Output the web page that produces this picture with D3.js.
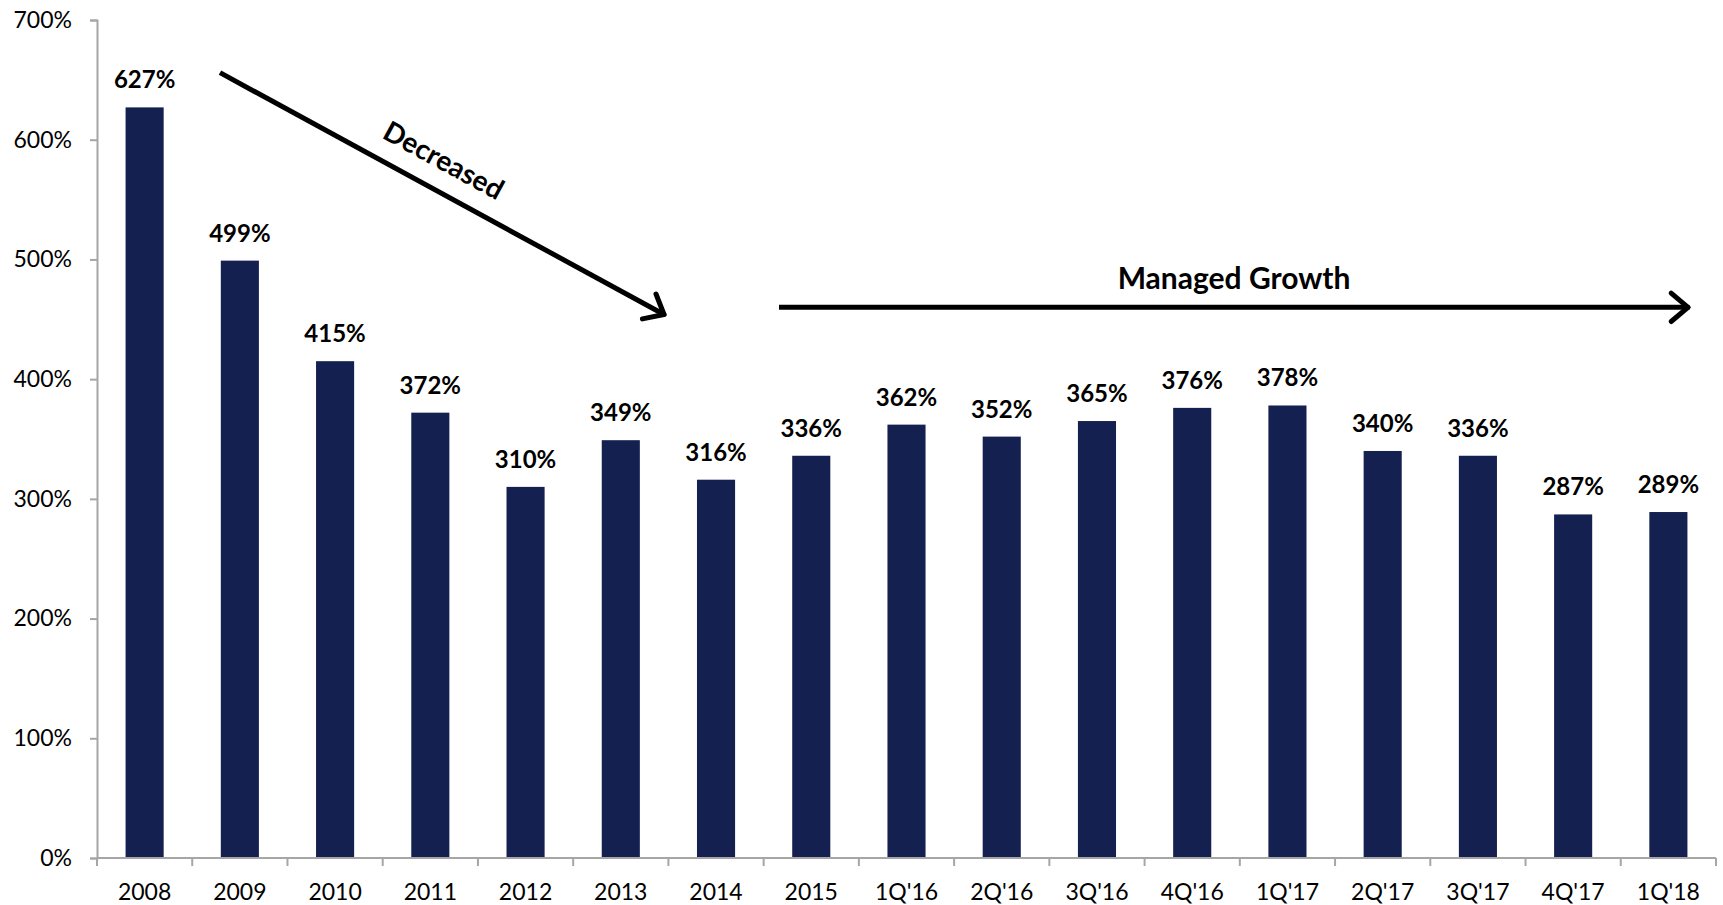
<!DOCTYPE html>
<html>
<head>
<meta charset="utf-8">
<script src="https://cdn.jsdelivr.net/npm/d3@7"></script>
<style>
  body { margin: 0; background: #fff; }
  svg { display: block; font-family: Lato, "Open Sans", sans-serif; }
</style>
</head>
<body>
<div id="chart"></div>
<script>
'use strict'
var width = 1723;
var height = 905;

// data
var categories = ["2008", "2009", "2010", "2011", "2012", "2013", "2014", "2015",
	"1Q'16", "2Q'16", "3Q'16", "4Q'16", "1Q'17", "2Q'17", "3Q'17", "4Q'17", "1Q'18"];
var values = [627, 499, 415, 372, 310, 349, 316, 336, 362, 352, 365, 376, 378, 340, 336, 287, 289];
var yTicks = [0, 100, 200, 300, 400, 500, 600, 700];

var margin = {top: 20, right: 7, bottom: 47, left: 97};

var svg = d3.select("#chart")
	.append("svg")
	.attr("width", width)
	.attr("height", height);

var x = d3.scaleBand()
	.domain(categories)
	.range([margin.left, width - margin.right])
	.paddingInner(0.6)
	.paddingOuter(0.3);

var y = d3.scaleLinear()
	.domain([0, 700])
	.range([height - margin.bottom, margin.top]);

var axisColor = "#a6a6a6";

// y axis
var yAxis = svg.append("g")
	.attr("transform", "translate(" + margin.left + ",0)")
	.call(d3.axisLeft(y).tickValues(yTicks).tickSize(7).tickPadding(18)
		.tickFormat(function(d){ return d + "%"; }));
yAxis.select(".domain").attr("stroke", axisColor).attr("stroke-width", 2);
yAxis.selectAll(".tick line").attr("stroke", axisColor).attr("stroke-width", 2);
yAxis.selectAll("text")
	.style("font-size", "23px")
	.style("fill", "#000")
	.style("font-family", "Lato, sans-serif");

// bars
svg.append("g")
	.selectAll("rect")
	.data(values)
	.enter()
	.append("rect")
		.attr("x", function(d, i){ return x(categories[i]); })
		.attr("y", function(d){ return y(d); })
		.attr("width", x.bandwidth())
		.attr("height", function(d){ return y(0) - y(d); })
		.attr("fill", "#142050");

// x axis (ticks between categories)
var xg = svg.append("g")
	.attr("transform", "translate(0," + y(0) + ")");
xg.append("line")
	.attr("x1", margin.left).attr("x2", width - margin.right)
	.attr("stroke", axisColor).attr("stroke-width", 2);
var step = x.step();
xg.selectAll(".sep")
	.data(d3.range(categories.length + 1))
	.enter()
	.append("line")
		.attr("x1", function(i){ return margin.left + i * step; })
		.attr("x2", function(i){ return margin.left + i * step; })
		.attr("y1", 0).attr("y2", 8)
		.attr("stroke", axisColor).attr("stroke-width", 2);
xg.selectAll(".lbl")
	.data(categories)
	.enter()
	.append("text")
		.attr("x", function(d){ return x(d) + x.bandwidth() / 2; })
		.attr("y", 42)
		.attr("text-anchor", "middle")
		.style("font-size", "23px")
		.text(function(d){ return d; });

// value labels
svg.append("g")
	.selectAll("text")
	.data(values)
	.enter()
	.append("text")
		.attr("x", function(d, i){ return x(categories[i]) + x.bandwidth() / 2; })
		.attr("y", function(d){ return y(d) - 19; })
		.attr("text-anchor", "middle")
		.style("font-size", "24px")
		.style("font-weight", "bold")
		.text(function(d){ return d + "%"; });

// annotations
function arrow(x1, y1, x2, y2){
	var g = svg.append("g");
	g.append("line")
		.attr("x1", x1).attr("y1", y1).attr("x2", x2).attr("y2", y2)
		.attr("stroke", "#000").attr("stroke-width", 5);
	var a = Math.atan2(y2 - y1, x2 - x1);
	var len = 22, spread = 0.7;
	[-spread, spread].forEach(function(s){
		g.append("line")
			.attr("x1", x2).attr("y1", y2)
			.attr("x2", x2 - len * Math.cos(a + s))
			.attr("y2", y2 - len * Math.sin(a + s))
			.attr("stroke", "#000").attr("stroke-width", 5)
			.attr("stroke-linecap", "round");
	});
	return a;
}

var d1 = [220, y(656), 664, y(454)];
var ang = arrow(d1[0], d1[1], d1[2], d1[3]);
svg.append("text")
	.attr("transform", "translate(439,169) rotate(" + (ang * 180 / Math.PI) + ")")
	.attr("text-anchor", "middle")
	.style("font-size", "28px")
	.style("font-weight", "bold")
	.text("Decreased");

arrow(779, y(460), 1688, y(460));
svg.append("text")
	.attr("x", 1234)
	.attr("y", 289)
	.attr("text-anchor", "middle")
	.style("font-size", "30px")
	.style("font-weight", "bold")
	.text("Managed Growth");
</script>
</body>
</html>
